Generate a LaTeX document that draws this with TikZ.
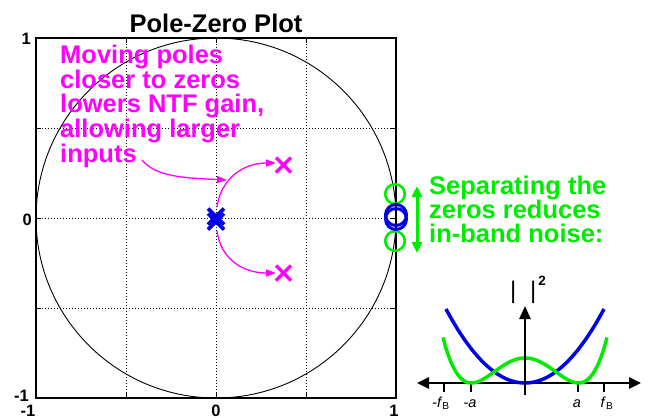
\documentclass[tikz,border=0pt]{standalone}
\usepackage{fontspec}
\setmainfont{Liberation Sans}
\usetikzlibrary{arrows.meta}
\definecolor{mag}{RGB}{255,0,255}
\definecolor{grn}{RGB}{0,235,0}
\definecolor{blu}{RGB}{0,0,230}
\tikzset{
  gridln/.style={line width=0.8pt, dash pattern=on 1pt off 2pt},
  bigtxt/.style={font=\fontsize{25.5}{23.75}\selectfont\bfseries, align=left, inner sep=0pt},
  ticklbl/.style={font=\fontsize{16.5}{16.5}\selectfont\bfseries, inner sep=0pt},
  insetlbl/.style={font=\fontsize{14.5}{14.5}\selectfont, inner sep=0pt, anchor=base},
  magarrow/.style={mag, line width=1.3pt, -{Triangle[length=10pt,width=7pt]}},
  xmark/.style={line width=3.2pt},
}
\begin{document}
\begin{tikzpicture}[x=1pt,y=-1pt]
\useasboundingbox (0,0) rectangle (649,418);
% grid
\foreach \g in {126,216,306}{
  \draw[gridln] (\g,38) -- (\g,398);
  \draw[gridln] (36,\g+2) -- (396,\g+2);
}
% frame ticks
\foreach \g in {126,216,306}{
  \draw[line width=0.8pt] (\g,398) -- (\g,393);
  \draw[line width=0.8pt] (\g,38) -- (\g,43);
  \draw[line width=0.8pt] (36,\g+2) -- (41,\g+2);
  \draw[line width=0.8pt] (396,\g+2) -- (391,\g+2);
}
% unit circle
\draw[line width=0.9pt] (216,218) circle[radius=180pt];
% frame
\draw[line width=1.3pt] (36,38) rectangle (396,398);
% title and tick labels
\node[bigtxt, anchor=base] (title) at (216,32) {Pole-Zero Plot};
\node[ticklbl, anchor=base east] (ly1) at (31,44) {1};
\node[ticklbl, anchor=base east] (ly0) at (32,225) {0};
\node[ticklbl, anchor=base east] (lym) at (29,401.5) {-1};
\node[ticklbl, anchor=base] (lxm) at (28,416) {-1};
\node[ticklbl, anchor=base] (lx0) at (216,416) {0};
\node[ticklbl, anchor=base] (lx1) at (394,416) {1};
% magenta text
\node[bigtxt, mag, anchor=base west] (mtxt) at (60,162) {Moving poles\\closer to zeros\\lowers NTF gain,\\allowing larger\\inputs};
% poles
\coordinate (p0) at (216,219);
\coordinate (pu) at (283.5,165);
\coordinate (pd) at (283.5,273);
\foreach \c in {pu,pd}{
  \draw[mag, xmark] ([shift={(-7.5,-7.5)}]\c) -- ([shift={(7.5,7.5)}]\c);
  \draw[mag, xmark] ([shift={(-7.5,7.5)}]\c) -- ([shift={(7.5,-7.5)}]\c);
}
\foreach \dy in {-2.5,2.5}{
  \draw[blu, line width=3.8pt] ([shift={(-8,-8+\dy)}]p0) -- ([shift={(8,8+\dy)}]p0);
  \draw[blu, line width=3.8pt] ([shift={(-8,8+\dy)}]p0) -- ([shift={(8,-8+\dy)}]p0);
}
% magenta arrows
\coordinate (au0) at (217,207);
\coordinate (au1) at (276,163);
\coordinate (ad0) at (217,231);
\coordinate (ad1) at (276,273);
\draw[magarrow] (au0) .. controls (221,178) and (244,163) .. (au1);
\draw[magarrow] (ad0) .. controls (221,260) and (244,273) .. (ad1);
\coordinate (t0) at (142,160);
\coordinate (t1) at (227,180);
\draw[magarrow] (t0) .. controls (156,177) and (185,178) .. (t1);
% zeros
\draw[grn, line width=2.5pt] (395,194) circle[radius=9.8pt];
\draw[grn, line width=2.5pt] (395,241) circle[radius=9.8pt];
\draw[blu, line width=3pt] (396,215) circle[radius=10.5pt];
\draw[blu, line width=3pt] (396,219) circle[radius=10.5pt];
% green double arrow and text
\coordinate (g0) at (417,186);
\coordinate (g1) at (417,253);
\draw[grn, line width=3pt, {Triangle[length=11pt,width=10pt]}-{Triangle[length=11pt,width=10pt]}] (g0) -- (g1);
\node[bigtxt, grn, anchor=base west, font=\fontsize{25.5}{24}\selectfont\bfseries] (gtxt) at (429,242) {Separating the\\zeros reduces\\in-band noise:};
% inset
\coordinate (hl) at (417,383);
\coordinate (hr) at (641,383);
\coordinate (vb) at (525,395);
\coordinate (vt) at (525,306);
\draw[line width=2.6pt, {Triangle[length=12pt,width=11pt]}-{Triangle[length=12pt,width=11pt]}] (hl) -- (hr);
\foreach \x in {444,471,578,604}{
  \draw[line width=1.2pt] (\x,383) -- (\x,392);
}
\draw[blu, line width=3.5pt] plot[domain=-79:79, samples=60, smooth] ({525+\x}, {383-74*(\x/79)*(\x/79)});
\draw[grn, line width=3.5pt] plot[domain=-82:82, samples=80, smooth] ({525+\x}, {383-25*((\x*\x-2862)/2862)*((\x*\x-2862)/2862)});
\draw[line width=2.6pt, -{Triangle[length=13pt,width=11pt]}] (vb) -- (vt);
\node[insetlbl] (lfbm) at (441,407) {-\textit{f}\textsubscript{B}};
\node[insetlbl] (lam) at (470,407) {-\textit{a}};
\node[insetlbl] (la) at (577,407) {\textit{a}};
\node[insetlbl] (lfb) at (607,407) {\textit{f}\textsubscript{B}};
\node[inner sep=0pt, anchor=base west, font=\fontsize{24}{24}\selectfont] (mag2) at (510,298) {|\hspace{13.6pt}|\hspace{2pt}\raisebox{13pt}{\fontsize{13.5}{13.5}\selectfont\bfseries 2}};
\end{tikzpicture}
\end{document}
